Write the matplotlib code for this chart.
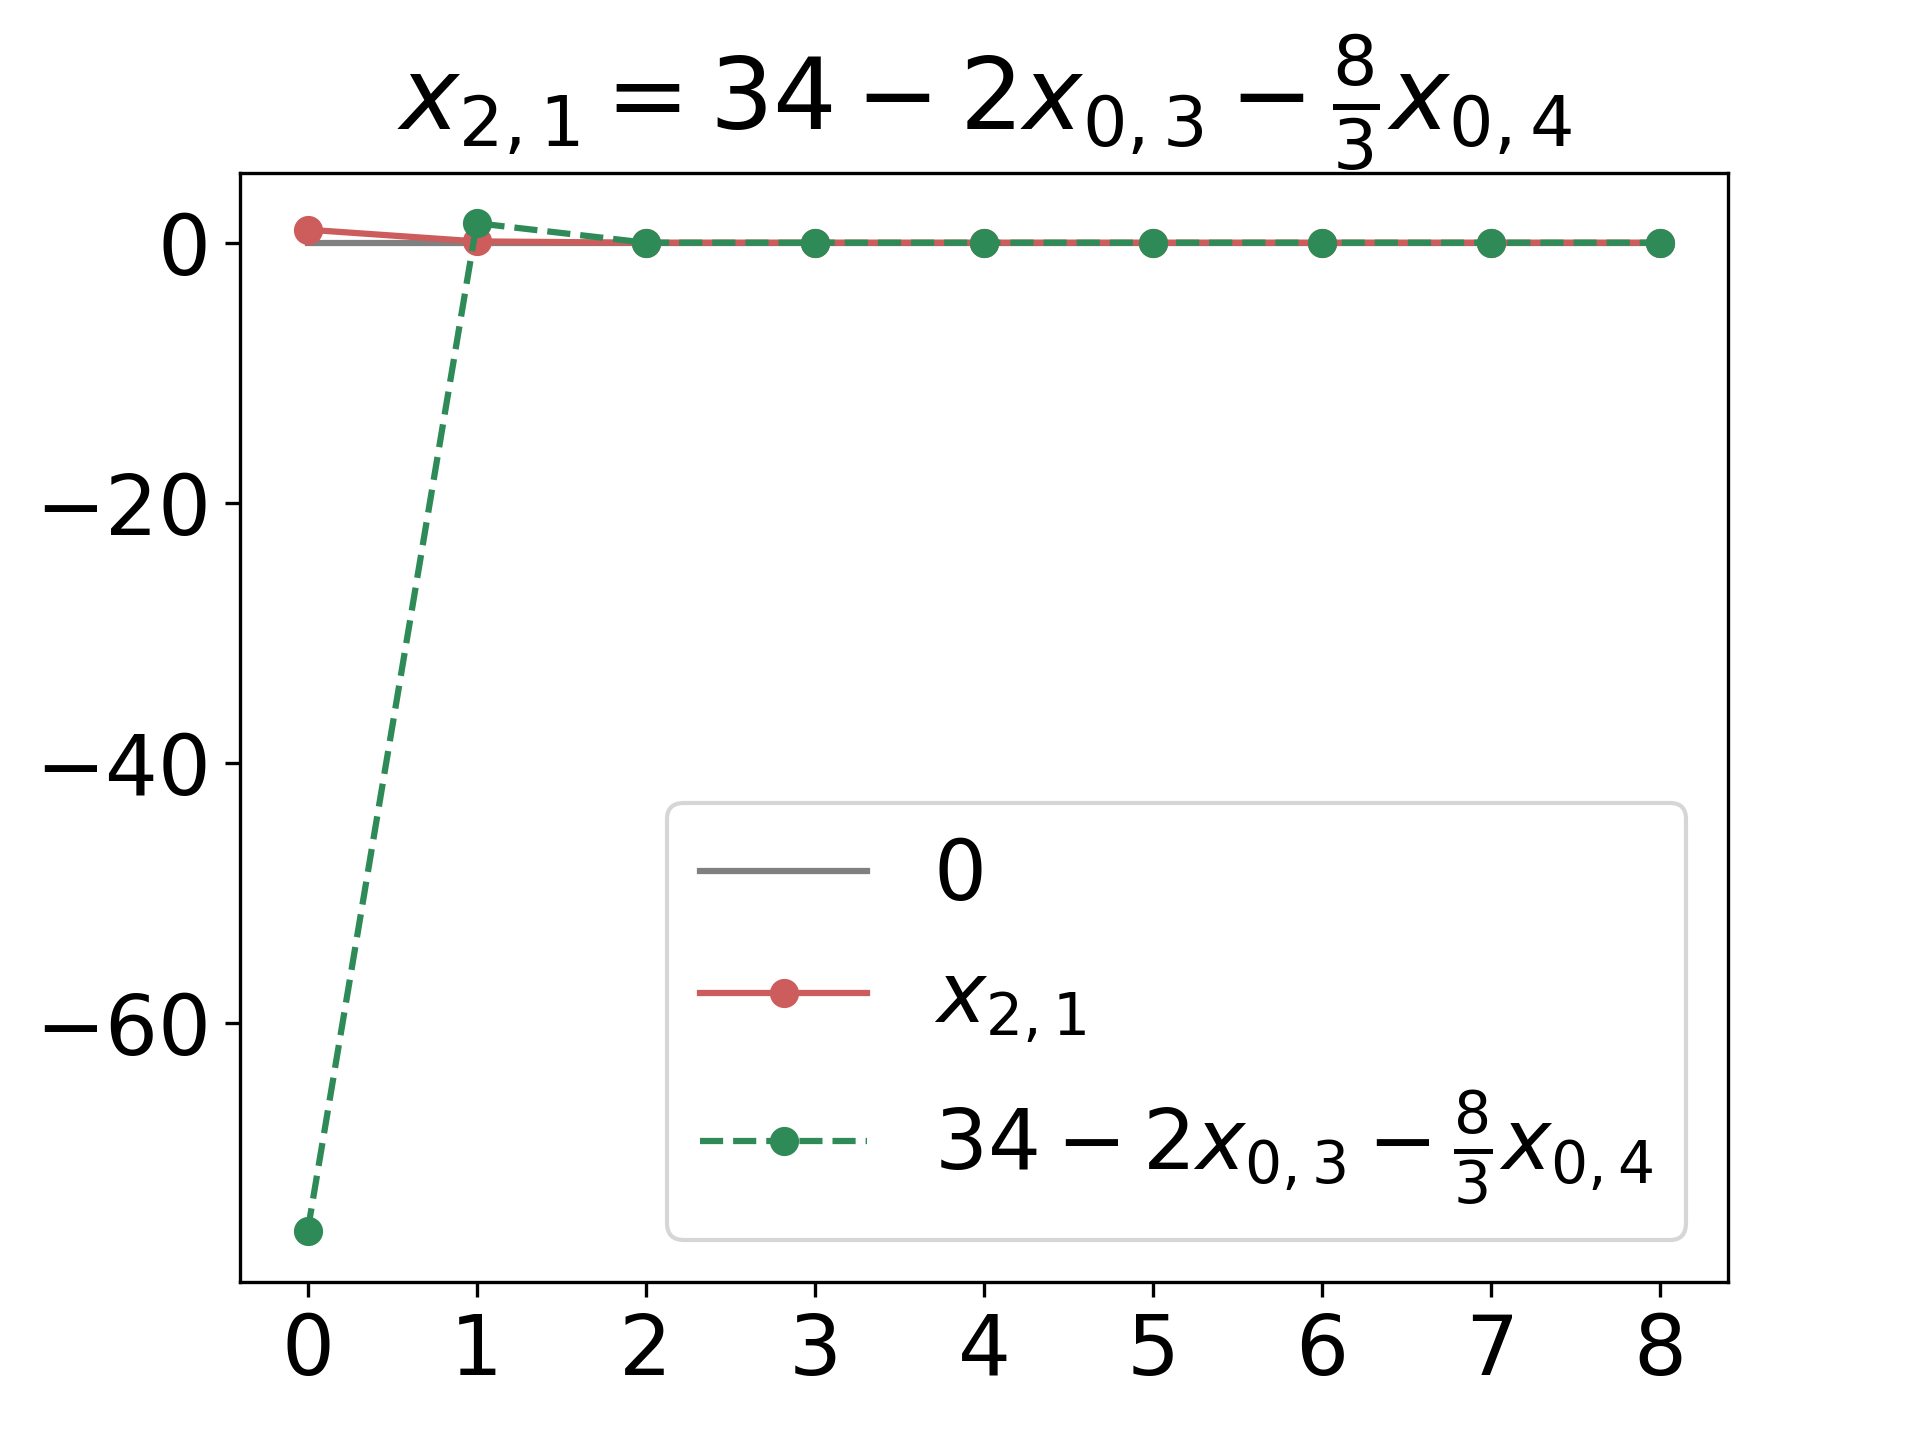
import matplotlib
matplotlib.use("Agg")
import matplotlib.pyplot as plt
import numpy as np

steps = [0, 1, 2, 3, 4, 5, 6, 7, 8]
zero_line = [0, 0, 0, 0, 0, 0, 0, 0, 0]
x21 = [1.0, 0.1, 0, 0, 0, 0, 0, 0, 0]
expr = [-76.0, 1.5, 0, 0, 0, 0, 0, 0, 0]

fig, ax = plt.subplots(figsize=(6.4, 4.8), dpi=300)
ax.plot(steps, zero_line, color="gray", label="0")
ax.plot(steps, x21, color="indianred", marker="o", label=r"$x_{2,1}$")
ax.plot(steps, expr, color="seagreen", marker="o", linestyle="--",
        label=r"$34 - 2x_{0,3} - \frac{8}{3}x_{0,4}$")
ax.set_title(r"$x_{2,1} = 34 - 2x_{0,3} - \frac{8}{3}x_{0,4}$", fontsize=24)
ax.tick_params(labelsize=20)
ax.set_xticks(steps)
ax.legend(fontsize=20, loc="lower right")
fig.savefig("out.png", dpi=300)
